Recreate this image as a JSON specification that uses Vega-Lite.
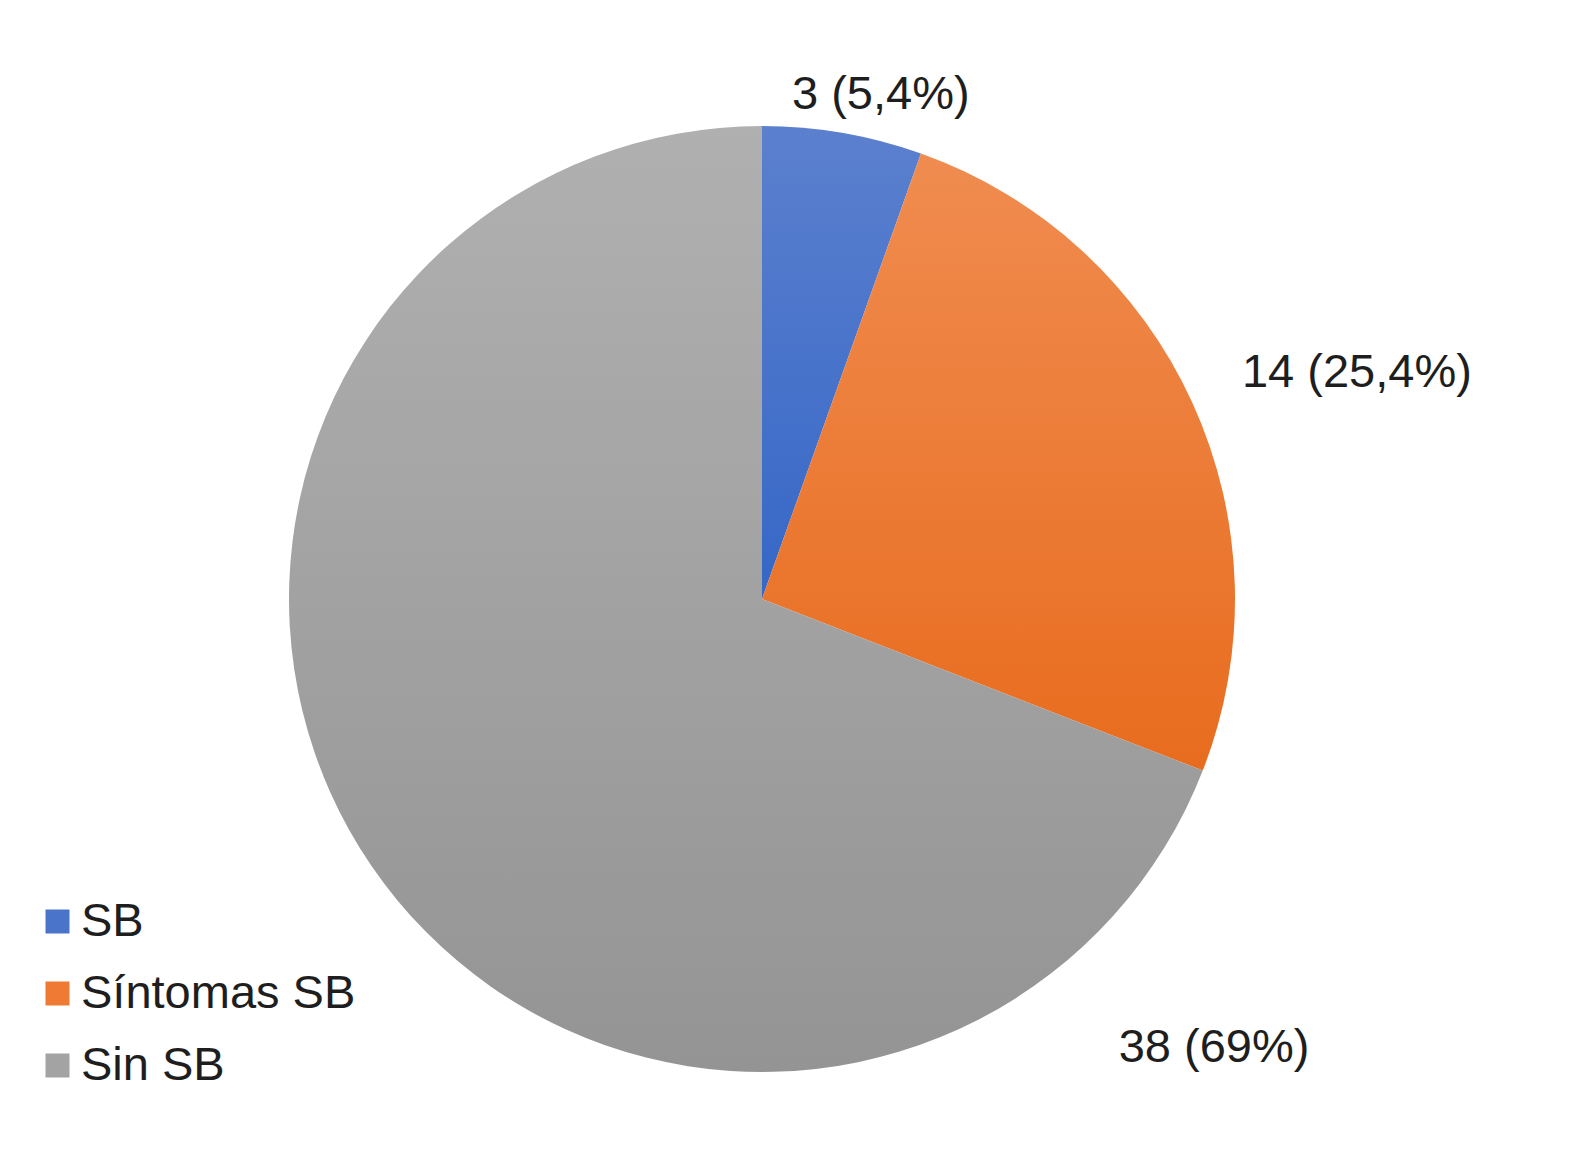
{
  "$schema": "https://vega.github.io/schema/vega-lite/v6.json",
  "width": 1524,
  "height": 1150,
  "autosize": "none",
  "padding": {"left": 0, "top": 24, "right": 0, "bottom": 0},
  "background": "white",
  "config": {"view": {"stroke": null}, "font": "Liberation Sans"},
  "data": {
    "values": [
      {"cat": "SB", "n": 3, "label": "3 (5,4%)", "orden": 1},
      {"cat": "Síntomas SB", "n": 14, "label": "14 (25,4%)", "orden": 2},
      {"cat": "Sin SB", "n": 38, "label": "38 (69%)", "orden": 3}
    ]
  },
  "encoding": {
    "theta": {"field": "n", "type": "quantitative", "stack": true},
    "order": {"field": "orden", "type": "quantitative"}
  },
  "layer": [
    {
      "mark": {"type": "arc", "outerRadius": 473},
      "encoding": {
        "color": {
          "field": "cat",
          "type": "nominal",
          "scale": {"domain": ["SB", "Síntomas SB", "Sin SB"], "range": ["#4A74C9", "#EE7A33", "#A3A3A3"]},
          "condition": [
            {"test": "datum.cat === 'SB'", "value": {"gradient": "linear", "x1": 0, "y1": 0, "x2": 0, "y2": 1, "stops": [{"offset": 0, "color": "#5B80CE"}, {"offset": 1, "color": "#3667C7"}]}},
            {"test": "datum.cat === 'Síntomas SB'", "value": {"gradient": "linear", "x1": 0, "y1": 0, "x2": 0, "y2": 1, "stops": [{"offset": 0, "color": "#F08C50"}, {"offset": 1, "color": "#E86C1E"}]}},
            {"test": "datum.cat === 'Sin SB'", "value": {"gradient": "linear", "x1": 0, "y1": 0, "x2": 0, "y2": 1, "stops": [{"offset": 0, "color": "#B0B0B0"}, {"offset": 1, "color": "#949494"}]}}
          ],
          "legend": {
            "orient": "none",
            "legendX": 34,
            "legendY": 874,
            "title": null,
            "labelFontSize": 47,
            "labelFont": "Liberation Sans",
            "labelColor": "#1e1e1e",
            "symbolType": "square",
            "symbolSize": 576,
            "symbolStrokeWidth": 0,
            "labelOffset": 0,
            "rowPadding": 24,
            "padding": 0,
            "labelLimit": 0
          }
        }
      }
    },
    {
      "mark": {"type": "text", "radius": 515, "dx": 31, "dy": 3, "fontSize": 47, "font": "Liberation Sans", "color": "#1e1e1e"},
      "encoding": {
        "detail": {"field": "cat"},
        "text": {"condition": {"test": "datum.cat === 'SB'", "field": "label", "type": "nominal"}, "value": ""}
      }
    },
    {
      "mark": {"type": "text", "radius": 610, "dx": 40, "dy": 27, "fontSize": 47, "font": "Liberation Sans", "color": "#1e1e1e"},
      "encoding": {
        "detail": {"field": "cat"},
        "text": {"condition": {"test": "datum.cat === 'Síntomas SB'", "field": "label", "type": "nominal"}, "value": ""}
      }
    },
    {
      "mark": {"type": "text", "radius": 0, "dx": 452, "dy": 449, "fontSize": 47, "font": "Liberation Sans", "color": "#1e1e1e"},
      "encoding": {
        "detail": {"field": "cat"},
        "text": {"condition": {"test": "datum.cat === 'Sin SB'", "field": "label", "type": "nominal"}, "value": ""}
      }
    }
  ]
}
